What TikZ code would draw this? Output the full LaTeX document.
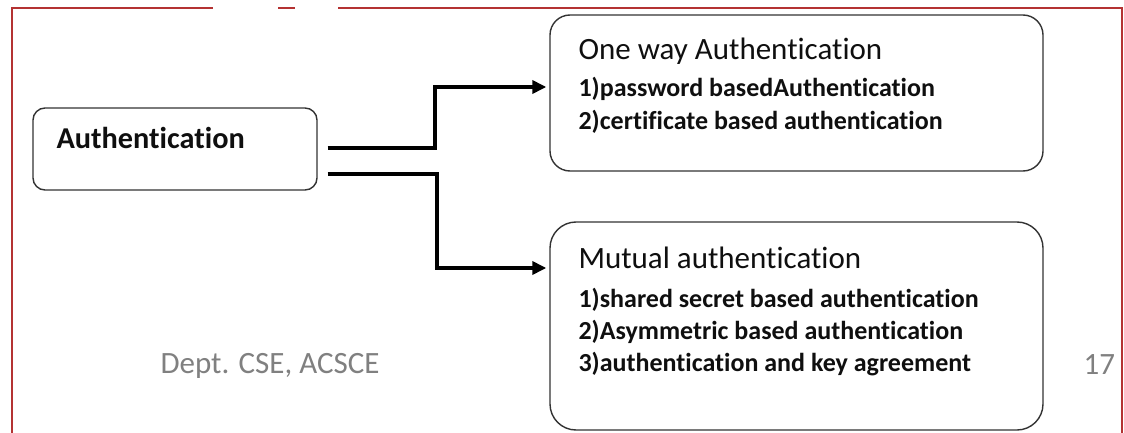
\documentclass[tikz,border=0pt]{standalone}
\usepackage{fontspec}
\setmainfont{Carlito}[Ligatures={NoCommon}]
\usetikzlibrary{arrows.meta}
\definecolor{framered}{RGB}{180,50,50}
\definecolor{footgray}{RGB}{128,128,128}
\definecolor{ink}{RGB}{15,15,15}
\begin{document}
\begin{tikzpicture}[x=1pt,y=-1pt,
  box/.style={draw=black!80, line width=1.4pt, rounded corners=#1, inner sep=0pt},
  conn/.style={draw=black, line width=3.8pt, line join=miter,
               -{Triangle[length=14pt,width=13pt]}},
  head/.style={anchor=base west, text=ink, font=\fontsize{31}{34}\selectfont},
  item/.style={anchor=base west, text=ink, font=\bfseries\fontsize{26}{30}\selectfont},
  foot/.style={anchor=base west, text=footgray, font=\fontsize{31}{34}\selectfont},
  frame/.style={draw=framered, line width=1.3pt}]
\useasboundingbox (0,0) rectangle (1124,433);
\fill[white] (0,0) rectangle (1124,433);

% slide frame (top edge partly covered)
\draw[frame] (12,433) -- (12,8) -- (213,8);
\draw[frame] (278,8) -- (295,8);
\draw[frame] (338,8) -- (1122,8) -- (1122,433);

% boxes
\node[box=12pt, minimum width=284pt, minimum height=82pt] (auth) at (175,149) {};
\node[box=20pt, minimum width=493pt, minimum height=156pt] (oneway) at (796.5,93) {};
\node[box=26pt, minimum width=493pt, minimum height=208pt] (mutual) at (796.5,326) {};

% box texts
\node[anchor=base west, text=ink, font=\bfseries\fontsize{30.3}{34}\selectfont] (authT) at (53,149) {Authentication};

\node[head] (owT) at (575,60) {One way Authentication};
\node[item] (ow1) at (575,97) {1)password basedAuthentication};
\node[item] (ow2) at (575,129) {2)certificate based authentication};

\node[head] (muT) at (575,268) {Mutual authentication};
\node[item] (mu1) at (575,307) {1)shared secret based authentication};
\node[item] (mu2) at (575,339) {2)Asymmetric based authentication};
\node[item] (mu3) at (575,371) {3)authentication and key agreement};

% footer
\node[foot] (dept) at (157,373) {Dept. CSE, ACSCE};
\node[foot] (page) at (1080,374) {17};

% connectors
\draw[conn] ([xshift=10pt,yshift=1pt]auth.east) -- (435,148) -- (435,87)
  -- ([xshift=-3pt,yshift=6pt]oneway.west);
\draw[conn] ([xshift=10pt,yshift=-25pt]auth.east) -- (437,174) -- (437,268)
  -- ([xshift=-3pt,yshift=58pt]mutual.west);
\end{tikzpicture}
\end{document}
